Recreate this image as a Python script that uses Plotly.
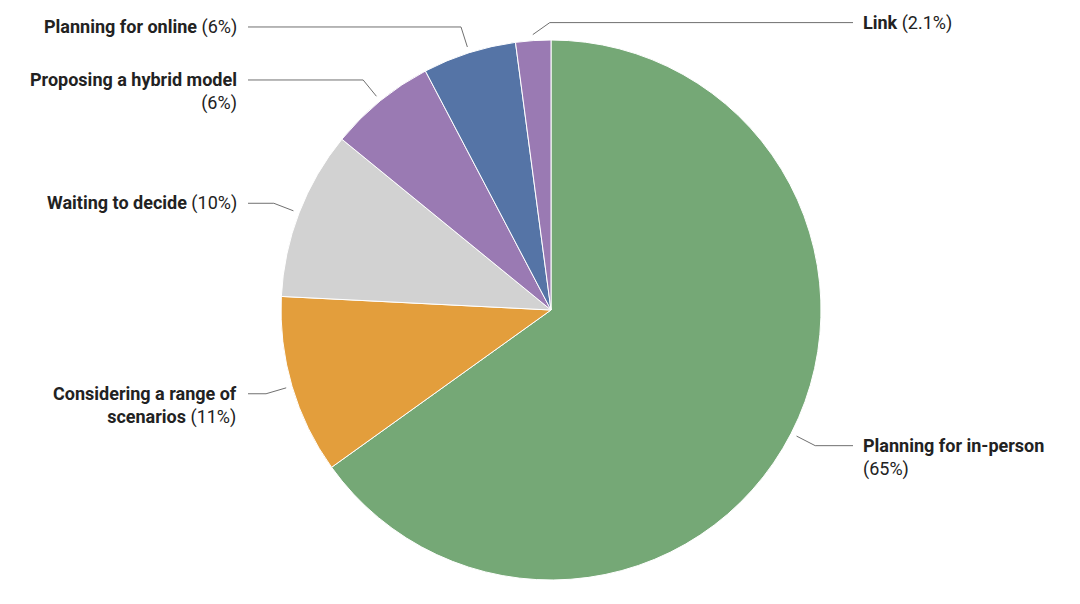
"""Pie chart of event planning status with outside leader-line labels."""

import math
import textwrap

import plotly.graph_objects as go

categories = [
    "Planning for in-person",
    "Considering a range of scenarios",
    "Waiting to decide",
    "Proposing a hybrid model",
    "Planning for online",
    "Link",
]
values = [65.1, 10.7, 10.1, 6.4, 5.6, 2.1]
pct_labels = ["65%", "11%", "10%", "6%", "6%", "2.1%"]
colors = ["#75a876", "#e39e3c", "#d2d2d2", "#9a7ab3", "#5574a6", "#9a7ab3"]

W, H = 1080, 604
PAGE = 8  # the page body margin shifts the figure by this much
CX, CY, R = 551, 310, 270
FONT_SIZE = 18
LINE_H = 1.3 * FONT_SIZE


def _label_html(name, pct, width=24):
    lines = textwrap.wrap(name, width)
    out = [f"<b>{line}</b>" for line in lines]
    tail = f"({pct})"
    if len(lines[-1]) + len(tail) + 1 <= width:
        out[-1] += " " + tail
    else:
        out.append(tail)
    return "<br>".join(out), len(out)


fig = go.Figure()
fig.add_trace(go.Pie(
    labels=categories, values=values, sort=False, direction="clockwise", rotation=0,
    marker=dict(colors=colors, line=dict(color="white", width=1)),
    textinfo="none", hoverinfo="label+percent", showlegend=False,
    domain=dict(x=[(CX - R - PAGE) / W, (CX + R - PAGE) / W],
                y=[(H + PAGE - CY - R) / H, (H + PAGE - CY + R) / H]),
))

total = sum(values)
start = 0.0
for name, value, pct in zip(categories, values, pct_labels):
    theta = 2 * math.pi * (start + value / 2) / total
    start += value
    sx, sy = CX + (R + 6) * math.sin(theta), CY - (R + 6) * math.cos(theta)
    ex, ey = CX + (R + 27) * math.sin(theta), CY - (R + 27) * math.cos(theta)
    right = math.sin(theta) > -0.1
    if right and math.sin(theta) < 0:
        # small top slice pushed to the right of the 12 o'clock line
        ex, ey = sx + 17, sy - 12
    tx = 853 if right else 248
    fig.add_trace(go.Scatter(
        x=[sx, ex, tx], y=[sy, ey, ey], mode="lines", xaxis="x", yaxis="y",
        line=dict(color="#707070", width=1), hoverinfo="skip", showlegend=False,
    ))
    text, nlines = _label_html(name, pct)
    fig.add_annotation(
        x=tx + 8 if right else tx - 9, y=ey + (nlines - 1) * LINE_H / 2,
        xref="x", yref="y", text=text, showarrow=False,
        xanchor="left" if right else "right", yanchor="middle",
        align="left" if right else "right",
        font=dict(family="Roboto", size=FONT_SIZE, color="#222222"),
    )

fig.update_layout(
    width=W, height=H, margin=dict(l=0, r=0, t=0, b=0),
    paper_bgcolor="white", plot_bgcolor="rgba(0,0,0,0)",
    xaxis=dict(range=[PAGE, W + PAGE], visible=False, fixedrange=True, domain=[0, 1]),
    yaxis=dict(range=[H + PAGE, PAGE], visible=False, fixedrange=True, domain=[0, 1]),
)
fig.write_html("out.html")
